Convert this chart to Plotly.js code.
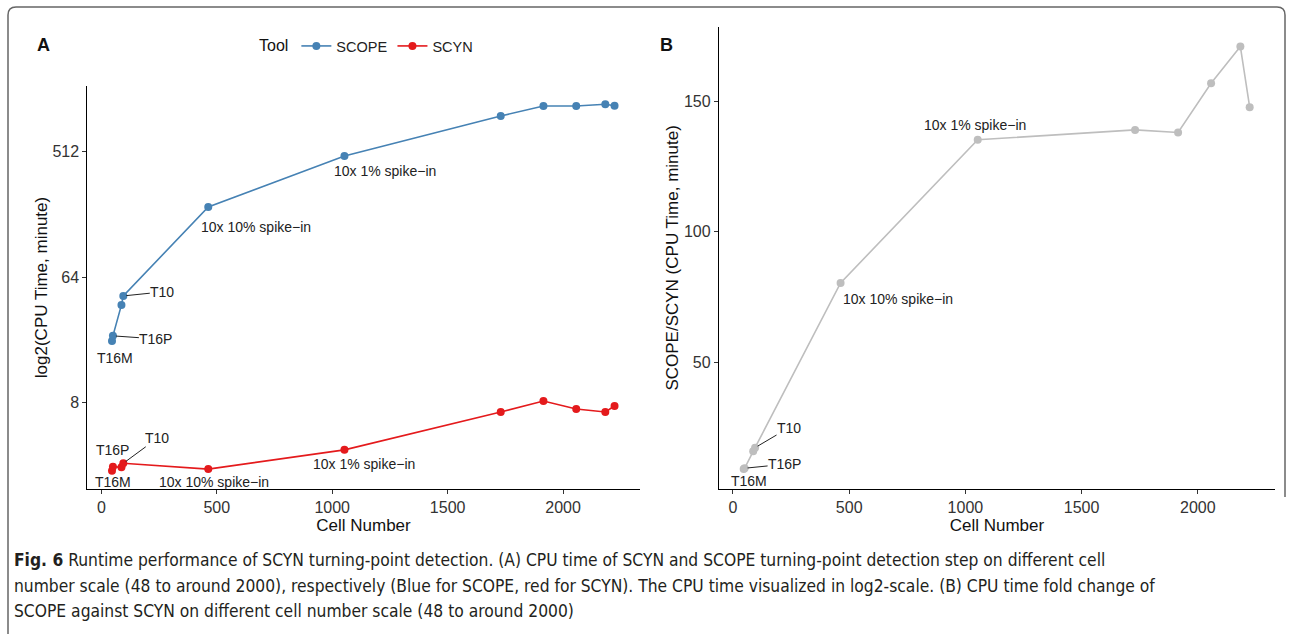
<!DOCTYPE html>
<html>
<head>
<meta charset="utf-8">
<script src="https://cdn.plot.ly/plotly-3.0.1.min.js"></script>
<style>html,body{margin:0;padding:0;background:#fff;}#chart{width:1292px;height:634px;}</style>
</head>
<body>
<div id="chart"></div>
<script>
// ---- data ----
const cellNumbers = [46, 50, 87, 95, 463, 1053, 1730, 1915, 2057, 2183, 2223];
const scopeMinutes = [22.2, 24.2, 40.4, 46.9, 204.8, 477, 925, 1090, 1090, 1123, 1097];
const scynMinutes = [2.59, 2.77, 2.74, 2.93, 2.66, 3.66, 6.86, 8.22, 7.21, 6.86, 7.57];
const foldChange = [9.0, 9.3, 15.8, 17.2, 80.4, 135.3, 139.1, 138.1, 157.0, 171.1, 147.8];
const xTicks = [0, 500, 1000, 1500, 2000];
const yTicksA = [8, 64, 512];
const yTicksB = [50, 100, 150];
const pointLabels = ['T16M', 'T16P', 'T10', '10x 10% spike\u2212in', '10x 1% spike\u2212in'];
const labelIndex = [0, 1, 3, 4, 5];
const seriesNames = ['SCOPE', 'SCYN'];
const caption = [
  '<b>Fig. 6</b> Runtime performance of SCYN turning-point detection. (A) CPU time of SCYN and SCOPE turning-point detection step on different cell',
  'number scale (48 to around 2000), respectively (Blue for SCOPE, red for SCYN). The CPU time visualized in log2-scale. (B) CPU time fold change of',
  'SCOPE against SCYN on different cell number scale (48 to around 2000)'
];

const W = 1292, H = 634;
const FONT = "'Liberation Sans', Arial, sans-serif";
const BLUE = '#4682B4', RED = '#E41A1C', GREY = '#BEBEBE';
const px = x => x / W, py = y => 1 - y / H;

const traces = [
  {x: cellNumbers, y: scopeMinutes, name: seriesNames[0], type: 'scatter', mode: 'lines+markers',
   line: {color: BLUE, width: 1.6}, marker: {color: BLUE, size: 8}, xaxis: 'x', yaxis: 'y'},
  {x: cellNumbers, y: scynMinutes, name: seriesNames[1], type: 'scatter', mode: 'lines+markers',
   line: {color: RED, width: 1.6}, marker: {color: RED, size: 8}, xaxis: 'x', yaxis: 'y'},
  {x: cellNumbers, y: foldChange, name: 'SCOPE/SCYN', type: 'scatter', mode: 'lines+markers', showlegend: false,
   line: {color: GREY, width: 1.6}, marker: {color: GREY, size: 8}, xaxis: 'x2', yaxis: 'y2'}
];

// label placement offsets (pixels): [xshift, yshift, arrow?]
const offA_scope = [[3, -17, 0], [43, -3, 1], [39, 4, 1], [48, -20, 0], [41, -15, 0]];
const offA_scyn  = [[1, -11, 0], [0, 17, 0], [34, 25, 1], [6, -13, 0], [20, -14, 0]];
const offB       = [[5, -12, 0], [40, 4, 1], [34, 20, 1], [57, -16, 0], [-3, 15, 0]];

const annFont = {family: FONT, size: 14, color: '#222'};
const annotations = [];
function addLabels(vals, offs, xr, yr, isLog) {
  labelIndex.forEach((idx, k) => {
    const o = offs[k];
    const yv = isLog ? Math.log10(vals[idx]) : vals[idx];
    const a = {xref: xr, yref: yr, x: cellNumbers[idx], y: yv, text: pointLabels[k], font: annFont};
    if (o[2]) {
      Object.assign(a, {showarrow: true, arrowhead: 0, arrowwidth: 1, arrowcolor: '#222',
        ax: o[0], ay: -o[1], standoff: 3, borderpad: 0});
    } else {
      Object.assign(a, {showarrow: false, xshift: o[0], yshift: o[1]});
    }
    annotations.push(a);
  });
}
addLabels(scopeMinutes, offA_scope, 'x', 'y', true);
addLabels(scynMinutes, offA_scyn, 'x', 'y', true);
addLabels(foldChange, offB, 'x2', 'y2', false);

// panel letters
annotations.push({xref: 'paper', yref: 'paper', x: px(35), y: py(33), text: '<b>A</b>', showarrow: false,
  font: {family: FONT, size: 18, color: '#111'}});
annotations.push({xref: 'paper', yref: 'paper', x: px(666), y: py(33), text: '<b>B</b>', showarrow: false,
  font: {family: FONT, size: 18, color: '#111'}});

// caption
const capY = [560, 586, 611];
caption.forEach((t, i) => annotations.push({xref: 'paper', yref: 'paper', x: px(12), y: py(capY[i]),
  xanchor: 'left', yanchor: 'middle', text: t, showarrow: false,
  font: {family: "'Liberation Sans Narrow', 'DejaVu Sans Condensed', Roboto, sans-serif", size: 17.3, color: '#231f20'}}));

const axisCommon = {showline: true, linecolor: '#000', linewidth: 1, ticks: 'outside', ticklen: 4,
  tickcolor: '#333', tickwidth: 1, showgrid: false, zeroline: false,
  tickfont: {family: FONT, size: 16, color: '#333'}};
const titleFont = {family: FONT, size: 17, color: '#111'};

const layout = {
  width: W, height: H, margin: {l: 0, r: 0, t: 0, b: 0},
  paper_bgcolor: '#fff', plot_bgcolor: '#fff',
  showlegend: true,
  legend: {orientation: 'h', x: px(257), xanchor: 'left', y: py(46), yanchor: 'middle',
    title: {text: 'Tool', side: 'left', font: {family: FONT, size: 16, color: '#111'}},
    font: {family: FONT, size: 14.5, color: '#222'}, itemwidth: 30, bgcolor: 'rgba(0,0,0,0)'},
  xaxis: Object.assign({}, axisCommon, {domain: [px(87.3), px(639.7)], range: [-61, 2332], anchor: 'y',
    tickvals: xTicks, title: {text: 'Cell Number', font: titleFont, standoff: 0}}),
  yaxis: Object.assign({}, axisCommon, {domain: [py(489), py(86)], type: 'log',
    range: [Math.log10(Math.pow(2, 0.936)), Math.log10(Math.pow(2, 10.57))], anchor: 'x',
    tickvals: yTicksA, ticktext: yTicksA.map(String), title: {text: 'log2(CPU Time, minute)', font: titleFont, standoff: 0}}),
  xaxis2: Object.assign({}, axisCommon, {domain: [px(718.8), px(1275)], range: [-61, 2332], anchor: 'y2',
    tickvals: xTicks, title: {text: 'Cell Number', font: titleFont, standoff: 0}}),
  yaxis2: Object.assign({}, axisCommon, {domain: [py(489), py(26.7)], range: [1.34, 178.7], anchor: 'x2',
    tickvals: yTicksB, title: {text: 'SCOPE/SCYN (CPU Time, minute)', font: titleFont, standoff: 0}}),
  annotations: annotations,
  shapes: [{type: 'path', xref: 'paper', yref: 'paper', layer: 'below',
    path: `M ${px(8)},${py(634)} L ${px(8)},${py(15)} Q ${px(8)},${py(7)} ${px(16)},${py(7)} L ${px(1277)},${py(7)} Q ${px(1285)},${py(7)} ${px(1285)},${py(15)} L ${px(1285)},${py(497)}`,
    line: {color: '#666', width: 1.5}}]
};

Plotly.newPlot('chart', traces, layout, {staticPlot: true, displayModeBar: false});
</script>
</body>
</html>
